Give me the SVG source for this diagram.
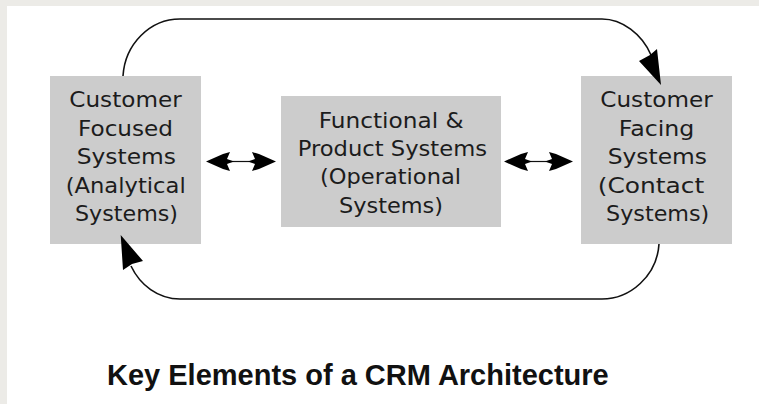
<svg xmlns="http://www.w3.org/2000/svg" width="759" height="404" viewBox="0 0 759 404">
  <style>
    .box { fill: #cccccc; }
    .lbl { font-family: "DejaVu Sans", "Liberation Sans", sans-serif; font-size: 21px; fill: #1c1c1c; }
    .title { font-family: "Liberation Sans", Arial, sans-serif; font-size: 29px; font-weight: bold; fill: #111111; }
    .wire { fill: none; stroke: #111111; stroke-width: 1.6; }
    .thin { fill: none; stroke: #111111; stroke-width: 1.2; }
    .head { fill: #000000; stroke: none; }
  </style>
  <rect x="0" y="0" width="759" height="404" fill="#ecebe7"/>
  <rect x="7" y="6" width="752" height="398" fill="#ffffff"/>

  <g id="node-customer-focused">
    <rect class="box" x="50" y="76" width="151" height="168"/>
    <text class="lbl" x="69.3" y="107" textLength="112.4" lengthAdjust="spacingAndGlyphs">Customer</text>
    <text class="lbl" x="78" y="135.5" textLength="95" lengthAdjust="spacingAndGlyphs">Focused</text>
    <text class="lbl" x="76.7" y="164" textLength="99.3" lengthAdjust="spacingAndGlyphs">Systems</text>
    <text class="lbl" x="65.7" y="192.5" textLength="120" lengthAdjust="spacingAndGlyphs">(Analytical</text>
    <text class="lbl" x="75" y="221" textLength="103" lengthAdjust="spacingAndGlyphs">Systems)</text>
  </g>

  <g id="node-functional-product">
    <rect class="box" x="281" y="96" width="220" height="131"/>
    <text class="lbl" x="318.7" y="127.7" textLength="145" lengthAdjust="spacingAndGlyphs">Functional &amp;</text>
    <text class="lbl" x="297.7" y="156" textLength="189.3" lengthAdjust="spacingAndGlyphs">Product Systems</text>
    <text class="lbl" x="320" y="184.3" textLength="141" lengthAdjust="spacingAndGlyphs">(Operational</text>
    <text class="lbl" x="339" y="212.6" textLength="104" lengthAdjust="spacingAndGlyphs">Systems)</text>
  </g>

  <g id="node-customer-facing">
    <rect class="box" x="581" y="76" width="151" height="168"/>
    <text class="lbl" x="600.3" y="107" textLength="112.4" lengthAdjust="spacingAndGlyphs">Customer</text>
    <text class="lbl" x="618.7" y="135.5" textLength="75.6" lengthAdjust="spacingAndGlyphs">Facing</text>
    <text class="lbl" x="607.7" y="164" textLength="99.3" lengthAdjust="spacingAndGlyphs">Systems</text>
    <text class="lbl" x="597.7" y="192.5" textLength="106.6" lengthAdjust="spacingAndGlyphs">(Contact</text>
    <text class="lbl" x="606" y="221" textLength="103.3" lengthAdjust="spacingAndGlyphs">Systems)</text>
  </g>

  <g id="connectors">
    <path class="wire" d="M123,76 C125,44 150,19 180,19 L602,19 C622,19 642,34 651,55"/>
    <polygon class="head" points="661,85 639,61 650,55 657,49"/>
    <path class="wire" d="M659,244 C657,276 630,299 602,299 L180,299 C158,299 140,285 131,266"/>
    <polygon class="head" points="120.7,235 143,261 132,264 123,270"/>
    <line class="thin" x1="226" y1="161.5" x2="256" y2="161.5"/>
    <polygon class="head" points="206,161.5 223,154 230,152 227,159 234,161.5 227,164 230,171 223,169"/>
    <polygon class="head" points="276,161.5 259,154 252,152 255,159 248,161.5 255,164 252,171 259,169"/>
    <line class="thin" x1="524" y1="161.5" x2="554" y2="161.5"/>
    <polygon class="head" points="504,161.5 521,154 528,152 525,159 532,161.5 525,164 528,171 521,169"/>
    <polygon class="head" points="573,161.5 556,154 549,152 552,159 545,161.5 552,164 549,171 556,169"/>
  </g>

  <g id="title">
    <text class="title" x="107" y="385">Key Elements of a CRM Architecture</text>
  </g>
</svg>
